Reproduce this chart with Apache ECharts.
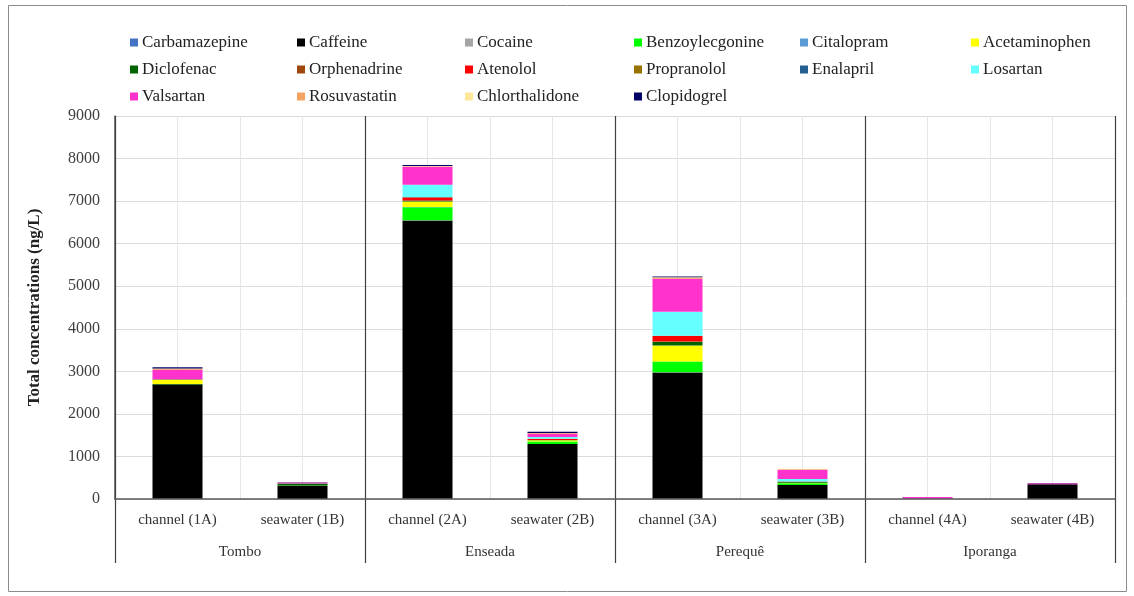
<!DOCTYPE html>
<html>
<head>
<meta charset="utf-8" />
<title>Total concentrations</title>
<style>
  html, body { margin: 0; padding: 0; background: #fff; }
  #chartBox { width: 1134px; height: 596px; }
</style>
</head>
<body>
  <div id="chartBox"></div>
<script src="https://cdn.jsdelivr.net/npm/echarts@6/dist/echarts.min.js"></script>
<script>
  // samples (first row of x labels) and sites (second row)
  var samples = ['channel (1A)', 'seawater (1B)', 'channel (2A)', 'seawater (2B)',
                 'channel (3A)', 'seawater (3B)', 'channel (4A)', 'seawater (4B)'];
  var sites = ['Tombo', 'Enseada', 'Perequê', 'Iporanga'];
  var yTicks = [0, 1000, 2000, 3000, 4000, 5000, 6000, 7000, 8000, 9000];

  // ng/L per sample
  var carbamazepine   = [5, 0, 5, 5, 5, 0, 0, 0];
  var caffeine        = [2690, 312, 6539, 1289, 2969, 328, 5, 345];
  var cocaine         = [0, 0, 5, 0, 5, 0, 0, 0];
  var benzoylecgonine = [10, 5, 305, 55, 250, 40, 0, 0];
  var citalopram      = [0, 0, 5, 0, 5, 0, 0, 0];
  var acetaminophen   = [94, 0, 133, 30, 375, 15, 0, 0];
  var diclofenac      = [5, 45, 20, 10, 86, 25, 0, 0];
  var orphenadrine    = [0, 0, 5, 0, 5, 0, 0, 0];
  var atenolol        = [10, 0, 70, 25, 133, 5, 0, 0];
  var propranolol     = [0, 0, 5, 0, 5, 0, 0, 0];
  var enalapril       = [0, 0, 5, 0, 0, 0, 0, 0];
  var losartan        = [5, 0, 289, 45, 562, 55, 0, 0];
  var valsartan       = [220, 28, 420, 75, 773, 219, 42, 25];
  var rosuvastatin    = [25, 0, 15, 15, 30, 15, 0, 0];
  var chlorthalidone  = [5, 0, 5, 0, 5, 10, 0, 0];
  var clopidogrel     = [25, 5, 20, 30, 20, 0, 0, 5];

  var compounds = ['Carbamazepine', 'Caffeine', 'Cocaine', 'Benzoylecgonine', 'Citalopram', 'Acetaminophen',
                   'Diclofenac', 'Orphenadrine', 'Atenolol', 'Propranolol', 'Enalapril', 'Losartan',
                   'Valsartan', 'Rosuvastatin', 'Chlorthalidone', 'Clopidogrel'];
  var values = [carbamazepine, caffeine, cocaine, benzoylecgonine, citalopram, acetaminophen,
                diclofenac, orphenadrine, atenolol, propranolol, enalapril, losartan,
                valsartan, rosuvastatin, chlorthalidone, clopidogrel];
  var colors = ['#4472c4', '#000000', '#a5a5a5', '#00ff00', '#5b9bd5', '#ffff00',
                '#006400', '#9e480e', '#ff0000', '#997300', '#255e91', '#66ffff',
                '#ff33cc', '#f4a460', '#ffe699', '#000066'];

  var _font = '"Liberation Serif", "Times New Roman", serif';

  $chart();

  function $chart() {
    var myChart = echarts.init(document.getElementById('chartBox'));

    // legend: 6 columns, filled row by row like the original
    var colLeft = [125, 292, 460, 629, 795, 966];
    var legends = [];
    for (var c = 0; c < 6; c++) {
      var names = [];
      for (var r = 0; r < 3; r++) {
        var k = r * 6 + c;
        if (k < compounds.length) names.push(compounds[k]);
      }
      legends.push({
        data: names,
        orient: 'vertical',
        left: colLeft[c],
        top: 29,
        itemGap: 10,
        itemWidth: 8,
        itemHeight: 8,
        icon: 'rect',
        selectedMode: false,
        textStyle: { fontFamily: _font, fontSize: 17, color: '#222', lineHeight: 17, padding: [0, 0, 0, -1] }
      });
    }

    var series = compounds.map(function (name, i) {
      return {
        name: name,
        type: 'bar',
        stack: 'total',
        barWidth: '40%',
        xAxisIndex: 0,
        itemStyle: { color: colors[i] },
        data: values[i]
      };
    });

    var option = {
      animation: false,
      legend: legends,
      grid: { left: 115, right: 19, top: 116, bottom: 97 },
      xAxis: [
        {
          type: 'category',
          data: samples,
          position: 'bottom',
          axisLine: { lineStyle: { color: '#595959', width: 1.5 } },
          axisTick: { show: false },
          axisLabel: { fontFamily: _font, fontSize: 15, color: '#333', margin: 14, interval: 0 },
          splitLine: { show: false },
          z: 5
        },
        {
          type: 'category',
          data: sites,
          position: 'bottom',
          axisLine: { show: false },
          axisTick: { show: true, length: 64, lineStyle: { color: '#404040', width: 1.2 } },
          axisLabel: { fontFamily: _font, fontSize: 15, color: '#333', margin: 46, interval: 0 },
          splitLine: { show: true, lineStyle: { color: '#404040', width: 1.2 } },
          z: 4
        },
        {
          // light vertical grid every half category
          type: 'value',
          min: 0,
          max: 16,
          interval: 1,
          show: true,
          axisLine: { show: false },
          axisTick: { show: false },
          axisLabel: { show: false },
          splitLine: { show: true, lineStyle: { color: '#e6e6e6', width: 1 } }
        }
      ],
      yAxis: {
        type: 'value',
        min: yTicks[0],
        max: yTicks[yTicks.length - 1],
        interval: 1000,
        name: 'Total concentrations (ng/L)',
        nameLocation: 'middle',
        nameGap: 72,
        nameTextStyle: { fontFamily: _font, fontSize: 17, fontWeight: 'bold', color: '#222' },
        axisLine: { show: true, lineStyle: { color: '#595959', width: 1.5 } },
        axisTick: { show: false },
        axisLabel: {
          fontFamily: _font, fontSize: 16, color: '#404040', margin: 15,
          formatter: function (v) { return String(v); }
        },
        splitLine: { lineStyle: { color: '#dcdcdc', width: 1.2 } }
      },
      graphic: [
        {
          type: 'rect',
          shape: { x: 8.5, y: 5.5, width: 1118, height: 586 },
          style: { fill: 'none', stroke: '#8c8c8c', lineWidth: 1 },
          silent: true
        }
      ],
      series: series
    };
    myChart.setOption(option);
  }
</script>
</body>
</html>
